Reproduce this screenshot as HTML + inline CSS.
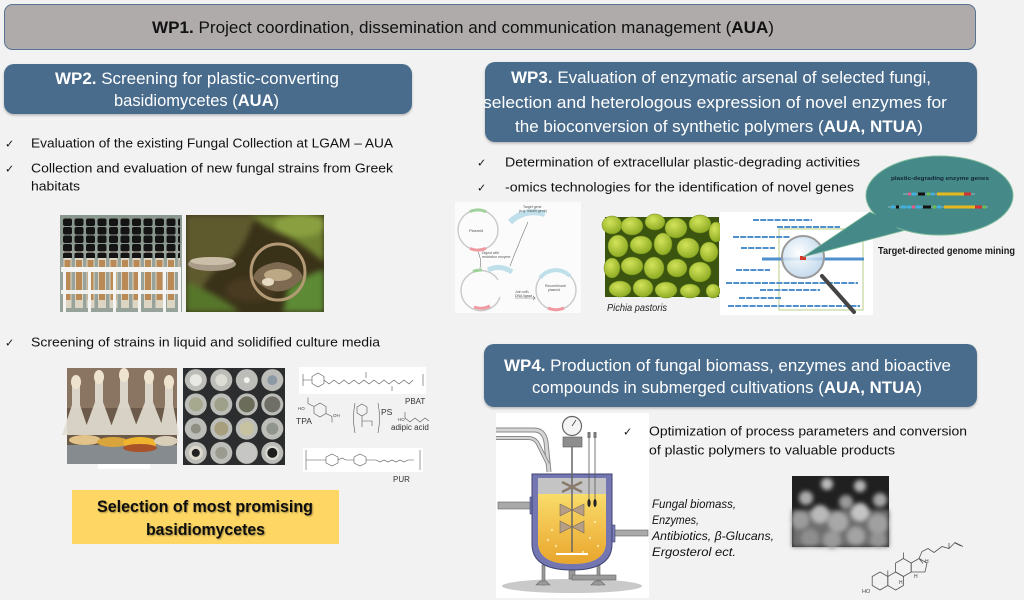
<!DOCTYPE html>
<html><head><meta charset="utf-8"><style>
html,body{margin:0;padding:0;background:#f2f2f2;}
svg{display:block;}
text{font-family:"Liberation Sans",sans-serif;}
.ck{font-family:"DejaVu Sans",sans-serif;font-size:11px;fill:#111;}
.b{font-size:13px;fill:#111;}
.h{font-size:17px;fill:#fff;}
</style></head><body>
<svg width="1024" height="603" viewBox="0 0 1024 603" xmlns="http://www.w3.org/2000/svg">
<defs>
<pattern id="caps" x="62" y="218" width="11.5" height="8.5" patternUnits="userSpaceOnUse"><rect x="1" y="0.5" width="9" height="7.5" rx="2" fill="#141414"/></pattern>
<pattern id="tubes" x="62" y="250" width="11.5" height="60" patternUnits="userSpaceOnUse"><rect x="1.5" y="0" width="8" height="60" fill="#ddd5c4"/><rect x="2.5" y="10" width="6" height="40" fill="#b98a55"/></pattern>
<linearGradient id="liq" x1="0" y1="0" x2="0" y2="1"><stop offset="0" stop-color="#f9dc6a"/><stop offset="1" stop-color="#e9a52c"/></linearGradient>
<radialGradient id="pich" cx="0.4" cy="0.35" r="0.7"><stop offset="0" stop-color="#d2e35a"/><stop offset="1" stop-color="#8aa820"/></radialGradient>
<radialGradient id="lens" cx="0.4" cy="0.4" r="0.6"><stop offset="0" stop-color="#ffffff" stop-opacity="0.9"/><stop offset="1" stop-color="#b9d3ea" stop-opacity="0.8"/></radialGradient>
<filter id="bl" x="-20%" y="-20%" width="140%" height="140%"><feGaussianBlur stdDeviation="2.2"/></filter>
<filter id="bl2" x="-20%" y="-20%" width="140%" height="140%"><feGaussianBlur stdDeviation="3"/></filter>
<filter id="sh" x="-5%" y="-10%" width="110%" height="130%"><feDropShadow dx="0" dy="1.5" stdDeviation="1.2" flood-color="#000" flood-opacity="0.25"/></filter>
<filter id="ts"><feDropShadow dx="1" dy="1" stdDeviation="0.8" flood-color="#000" flood-opacity="0.35"/></filter>
<clipPath id="forestclip"><rect x="186" y="215" width="138" height="97"/></clipPath>
</defs>

<rect x="0" y="0" width="1024" height="603" fill="#f2f2f2"/>
<rect x="0" y="600" width="1024" height="3" fill="#ffffff"/>

<!-- WP1 -->
<rect x="4.5" y="4.5" width="971" height="45" rx="8" fill="#afabab" stroke="#5a7394" stroke-width="1"/>
<text x="152" y="33" font-size="16.5" fill="#111" textLength="622" lengthAdjust="spacingAndGlyphs"><tspan font-weight="bold">WP1.</tspan> Project coordination, dissemination and communication management (<tspan font-weight="bold">AUA</tspan>)</text>

<!-- WP2 -->
<rect x="4" y="64" width="408" height="50" rx="10" fill="#496c8d" filter="url(#sh)"/>
<text class="h" x="55" y="84" textLength="284" lengthAdjust="spacingAndGlyphs"><tspan font-weight="bold">WP2.</tspan> Screening for plastic-converting</text>
<text class="h" x="114" y="106" textLength="165" lengthAdjust="spacingAndGlyphs">basidiomycetes (<tspan font-weight="bold">AUA</tspan>)</text>

<text class="ck" x="5" y="147.5">✓</text>
<text class="b" x="31" y="147.5" textLength="362" lengthAdjust="spacingAndGlyphs">Evaluation of the existing Fungal Collection at LGAM – AUA</text>
<text class="ck" x="5" y="172.5">✓</text>
<text class="b" x="31" y="172.5" textLength="362" lengthAdjust="spacingAndGlyphs">Collection and evaluation of new fungal strains from Greek</text>
<text class="b" x="31" y="190.5" textLength="49" lengthAdjust="spacingAndGlyphs">habitats</text>

<!-- test tubes image -->
<rect x="60" y="215" width="122" height="97" fill="#97a39a"/>
<rect x="60" y="215" width="122" height="30" fill="#8a978e"/>
<rect x="62" y="250" width="118" height="58" fill="url(#tubes)"/>
<rect x="62" y="218" width="118" height="40" fill="url(#caps)"/>
<rect x="61" y="267" width="120" height="5" fill="#f4f4f2"/>
<rect x="61" y="290" width="120" height="4" fill="#f0f0ee"/>
<rect x="63" y="267" width="3" height="45" fill="#f4f4f2"/><rect x="88" y="267" width="3" height="45" fill="#f4f4f2"/><rect x="113" y="267" width="3" height="45" fill="#f4f4f2"/><rect x="138" y="267" width="3" height="45" fill="#f4f4f2"/><rect x="163" y="267" width="3" height="45" fill="#f4f4f2"/><rect x="178" y="267" width="3" height="45" fill="#f4f4f2"/>

<!-- forest image -->
<g clip-path="url(#forestclip)">
<rect x="186" y="215" width="138" height="97" fill="#3a3119"/>
<g filter="url(#bl2)">
<path d="M186 215 H255 Q245 250 228 262 Q205 272 192 312 H186 Z" fill="#5e5a2e"/>
<path d="M250 215 H324 V262 Q300 242 282 234 Q265 228 250 215 Z" fill="#6f8232"/>
<ellipse cx="300" cy="225" rx="25" ry="12" fill="#8aa040"/>
<path d="M186 282 Q215 292 240 312 H186 Z" fill="#56762a"/>
<path d="M288 288 Q310 272 324 270 V312 H283 Z" fill="#5d8a34"/>
<ellipse cx="250" cy="290" rx="25" ry="12" fill="#4a3a20"/>
</g>
<ellipse cx="212" cy="264" rx="24" ry="7" fill="#a89a86"/>
<ellipse cx="212" cy="261" rx="22" ry="4" fill="#cbbfa9"/>
<ellipse cx="278" cy="272" rx="27" ry="28" fill="none" stroke="#b39a74" stroke-width="3"/>
<path d="M253 278 Q278 305 303 278 Q300 265 278 262 Q256 265 253 278 Z" fill="#7d6a50"/>
<ellipse cx="278" cy="275" rx="14" ry="6" fill="#bca884"/>
<ellipse cx="268" cy="282" rx="6" ry="4" fill="#e6dac2"/>
</g>

<text class="ck" x="5" y="346.5">✓</text>
<text class="b" x="31" y="346.5" textLength="349" lengthAdjust="spacingAndGlyphs">Screening of strains in liquid and solidified culture media</text>

<!-- flasks image -->
<rect x="67" y="368" width="110" height="96" fill="#6b5a49"/>
<rect x="67" y="368" width="110" height="40" fill="#8a7562"/>
<rect x="67" y="445" width="110" height="19" fill="#868b90"/>
<g fill="#e4dfd4" opacity="0.9">
<path d="M72 385 h8 v20 l10 30 h-28 l10 -30 z"/>
<path d="M95 380 h8 v22 l12 33 h-32 l12 -33 z"/>
<path d="M120 378 h8 v24 l12 33 h-32 l12 -33 z"/>
<path d="M145 380 h8 v22 l13 33 h-34 l13 -33 z"/>
<path d="M165 385 h8 v20 l6 30 h-20 l6 -30 z"/>
</g>
<g fill="#ede3cf"><ellipse cx="76" cy="382" rx="5" ry="7"/><ellipse cx="99" cy="377" rx="5" ry="7"/><ellipse cx="124" cy="375" rx="5" ry="7"/><ellipse cx="149" cy="377" rx="5" ry="7"/><ellipse cx="169" cy="382" rx="5" ry="7"/></g>
<ellipse cx="85" cy="440" rx="16" ry="5" fill="#e2c48a"/>
<ellipse cx="113" cy="442" rx="16" ry="5" fill="#d9a43c"/>
<ellipse cx="140" cy="443" rx="17" ry="6" fill="#f0b52e"/>
<ellipse cx="166" cy="441" rx="12" ry="5" fill="#d9cfb8"/>
<ellipse cx="140" cy="448" rx="17" ry="4" fill="#a8522a"/>
<rect x="98" y="464" width="52" height="5" fill="#ffffff"/>

<!-- plates image -->
<rect x="183" y="368" width="102" height="97" fill="#2b2d2e"/>
<g fill="#bcbdb8">
<circle cx="195.8" cy="380.1" r="11"/><circle cx="221.3" cy="380.1" r="11"/><circle cx="246.8" cy="380.1" r="11"/><circle cx="272.3" cy="380.1" r="11"/>
<circle cx="195.8" cy="404.4" r="11"/><circle cx="221.3" cy="404.4" r="11"/><circle cx="246.8" cy="404.4" r="11"/><circle cx="272.3" cy="404.4" r="11"/>
<circle cx="195.8" cy="428.6" r="11"/><circle cx="221.3" cy="428.6" r="11"/><circle cx="246.8" cy="428.6" r="11"/><circle cx="272.3" cy="428.6" r="11"/>
<circle cx="195.8" cy="452.9" r="11"/><circle cx="221.3" cy="452.9" r="11"/><circle cx="246.8" cy="452.9" r="11"/><circle cx="272.3" cy="452.9" r="11"/>
</g>
<g>
<circle cx="195.8" cy="380.1" r="6" fill="#e8e8e4"/><circle cx="221.3" cy="380.1" r="6" fill="#dddcd4"/><circle cx="246.8" cy="380.1" r="3" fill="#f2f2ee"/><circle cx="272.3" cy="380.1" r="5" fill="#8e99a6"/>
<circle cx="195.8" cy="404.4" r="7" fill="#a7a98e"/><circle cx="221.3" cy="404.4" r="7" fill="#9fa08a"/><circle cx="246.8" cy="404.4" r="8" fill="#6b6d5a"/><circle cx="272.3" cy="404.4" r="8" fill="#6f6f68"/>
<circle cx="195.8" cy="428.6" r="5" fill="#8e8f82"/><circle cx="221.3" cy="428.6" r="7" fill="#a69e7c"/><circle cx="246.8" cy="428.6" r="7" fill="#c7c2a0"/><circle cx="272.3" cy="428.6" r="6" fill="#8f948c"/>
<circle cx="195.8" cy="452.9" r="7" fill="#ddd8cc"/><circle cx="195.8" cy="452.9" r="4" fill="#222"/><circle cx="221.3" cy="452.9" r="6" fill="#9a9a8e"/><circle cx="246.8" cy="452.9" r="10" fill="#c6c6c4"/><circle cx="272.3" cy="452.9" r="7" fill="#dcdcd4"/><circle cx="272.3" cy="452.9" r="5" fill="#1e1e1e"/>
</g>

<!-- chemical structures -->
<rect x="299" y="367" width="127" height="27" fill="#ffffff"/>
<g fill="none" stroke="#555" stroke-width="0.6">
<path d="M303 374 v12 M303 380 h5"/>
<polygon points="318,373 324,376.5 324,383.5 318,387 312,383.5 312,376.5"/>
<path d="M308 380 h4 M324 380 l5 4 l5 -4 l5 4 l5 -4 l5 4 l5 -4 l5 4 l5 -4 l5 4 l5 -4 l5 4 l5 -4 l5 4 l5 -4 l5 4 l5 -4 l5 4 l4 -4 M423 374 v12 M366 372 v6 M392 386 v5"/>
</g>
<text x="405" y="404" font-size="8" fill="#333">PBAT</text>
<g fill="none" stroke="#555" stroke-width="0.6">
<polygon points="320,403 326,406.5 326,413.5 320,417 314,413.5 314,406.5"/>
<path d="M314 406.5 l-6 -3 M308 403.5 v-6 M326 413.5 l6 3 M332 416.5 v6"/>
<path d="M355 403 q-3 15 0 30 M378 403 q3 15 0 30"/>
<polygon points="362,404 367,407 367,413 362,416 357,413 357,407"/>
<path d="M362 416 v5 h10 v5 M362 421 v6"/>
<path d="M405 418 l5 4 l5 -4 l5 4 l5 -4 l4 3 M405 418 v-6"/>
</g>
<text x="298" y="410" font-size="4.5" fill="#444">HO</text>
<text x="333" y="417" font-size="4.5" fill="#444">OH</text>
<text x="398" y="421" font-size="4.5" fill="#444">HO</text>
<text x="296" y="424" font-size="8.5" fill="#333">TPA</text>
<text x="381" y="415" font-size="8.5" fill="#333">PS</text>
<text x="391" y="430" font-size="8" fill="#333">adipic acid</text>
<rect x="303" y="448" width="120" height="24" fill="#ffffff"/>
<g fill="none" stroke="#555" stroke-width="0.6">
<path d="M306 450 v20 M420 450 v20 M306 460 h10"/>
<polygon points="332,454 338,457 338,463 332,466 326,463 326,457"/>
<polygon points="360,454 366,457 366,463 360,466 354,463 354,457"/>
<path d="M316 460 h10 M338 460 l4 -2 l4 2 h8 M366 460 h10 l4 2 l4 -2 l4 2 l4 -2 l4 2 l4 -2 l4 2 l4 -2 l6 0"/>
</g>
<text x="393" y="482" font-size="8" fill="#333">PUR</text>

<!-- Selection box -->
<rect x="72" y="490" width="267" height="54" fill="#fdd663"/>
<g filter="url(#ts)">
<text x="97" y="512" font-size="17" font-weight="bold" fill="#111" textLength="216" lengthAdjust="spacingAndGlyphs">Selection of most promising</text>
<text x="146" y="535" font-size="17" font-weight="bold" fill="#111" textLength="119" lengthAdjust="spacingAndGlyphs">basidiomycetes</text>
</g>

<!-- WP3 -->
<rect x="485" y="62" width="492" height="80" rx="10" fill="#496c8d" filter="url(#sh)"/>
<text class="h" x="511" y="83" textLength="420" lengthAdjust="spacingAndGlyphs"><tspan font-weight="bold">WP3.</tspan> Evaluation of enzymatic arsenal of selected fungi,</text>
<text class="h" x="483" y="108" textLength="464" lengthAdjust="spacingAndGlyphs">selection and heterologous expression of novel enzymes for</text>
<text class="h" x="515" y="132" textLength="408" lengthAdjust="spacingAndGlyphs">the bioconversion of synthetic polymers (<tspan font-weight="bold">AUA, NTUA</tspan>)</text>

<text class="ck" x="477" y="166.5">✓</text>
<text class="b" x="505" y="166.5" textLength="355" lengthAdjust="spacingAndGlyphs">Determination of extracellular plastic-degrading activities</text>
<text class="ck" x="477" y="191.5">✓</text>
<text class="b" x="505" y="191.5" textLength="349" lengthAdjust="spacingAndGlyphs">-omics technologies for the identification of novel genes</text>

<!-- plasmid diagram -->
<rect x="455" y="202" width="126" height="111" fill="#fbfbfb"/>
<g fill="none" stroke-width="1.4">
<circle cx="478" cy="230" r="20" stroke="#c9c9c9"/>
<path d="M470 211.5 A20 20 0 0 1 486 211.7" stroke="#9fd19a" stroke-width="3"/>
<path d="M470 248.5 A20 20 0 0 0 486 248.3" stroke="#ee9aa0" stroke-width="3"/>
<path d="M510 222 Q525 208 545 214" stroke="#bfe0ea" stroke-width="6"/>
<path d="M500 297 A20 20 0 1 1 498 280" stroke="#c9c9c9"/>
<path d="M473 271.5 A20 20 0 0 1 482 270" stroke="#9fd19a" stroke-width="3"/>
<path d="M474 307 A20 20 0 0 0 490 306" stroke="#ee9aa0" stroke-width="3"/>
<path d="M488 270 Q500 264 512 272" stroke="#bfe0ea" stroke-width="5"/>
<circle cx="556" cy="290" r="20" stroke="#c9c9c9"/>
<path d="M540 278 A20 20 0 0 1 570 276" stroke="#bfe0ea" stroke-width="4"/>
<path d="M548 308 A20 20 0 0 0 564 308" stroke="#ee9aa0" stroke-width="3"/>
</g>
<g fill="none" stroke="#777" stroke-width="0.6">
<path d="M478 252 Q482 260 480 268"/><path d="M528 222 Q518 245 510 266"/><path d="M515 298 h20 l-2 -2 M535 298 l-2 2"/>
</g>
<text x="469" y="232" font-size="4" fill="#555">Plasmid</text>
<text x="523" y="208" font-size="3.5" fill="#555">Target gene</text>
<text x="519" y="212" font-size="3.5" fill="#555">(e.g. insulin gene)</text>
<text x="482" y="254" font-size="3.5" fill="#555">Digest with</text>
<text x="482" y="258" font-size="3.5" fill="#555">restriction enzyme</text>
<text x="515" y="293" font-size="3.5" fill="#555">Join with</text>
<text x="515" y="297" font-size="3.5" fill="#555">DNA ligase</text>
<text x="545" y="287" font-size="3.5" fill="#555">Recombinant</text>
<text x="548" y="291" font-size="3.5" fill="#555">plasmid</text>

<!-- Pichia -->
<rect x="605" y="217" width="114" height="80" fill="#3b5410"/>
<g fill="url(#pich)" stroke="#6f8a18" stroke-width="0.5">
<ellipse cx="612" cy="225" rx="10" ry="9"/><ellipse cx="632" cy="226" rx="11" ry="9"/><ellipse cx="655" cy="222" rx="10" ry="8"/><ellipse cx="676" cy="228" rx="11" ry="10"/><ellipse cx="700" cy="224" rx="11" ry="9"/><ellipse cx="716" cy="232" rx="7" ry="10"/>
<ellipse cx="618" cy="246" rx="10" ry="11"/><ellipse cx="641" cy="245" rx="11" ry="9"/><ellipse cx="663" cy="244" rx="9" ry="11"/><ellipse cx="688" cy="248" rx="11" ry="10"/><ellipse cx="709" cy="252" rx="9" ry="10"/>
<ellipse cx="612" cy="268" rx="8" ry="10"/><ellipse cx="632" cy="266" rx="11" ry="9"/><ellipse cx="654" cy="268" rx="10" ry="11"/><ellipse cx="677" cy="268" rx="10" ry="9"/><ellipse cx="700" cy="272" rx="11" ry="10"/>
<ellipse cx="620" cy="289" rx="11" ry="8"/><ellipse cx="643" cy="288" rx="10" ry="9"/><ellipse cx="666" cy="290" rx="11" ry="8"/><ellipse cx="690" cy="291" rx="10" ry="7"/><ellipse cx="713" cy="291" rx="7" ry="7"/>
</g>
<text x="607" y="311" font-size="10.5" font-style="italic" fill="#222" textLength="60" lengthAdjust="spacingAndGlyphs">Pichia pastoris</text>

<!-- genome mining -->
<rect x="720" y="212" width="153" height="103" fill="#ffffff"/>
<rect x="779" y="229" width="84" height="81" fill="none" stroke="#b5cf86" stroke-width="1"/>
<g stroke="#4f8fcc" stroke-width="2" stroke-dasharray="6 1.2">
<path d="M753 220 H812"/><path d="M777 227 H840"/><path d="M733 237 H790"/><path d="M741 248 H775"/>
<path d="M762 259 H864"/><path d="M736 270 H770"/><path d="M726 283 H858"/><path d="M760 290 H820"/>
<path d="M739 298 H782"/><path d="M728 306 H860"/>
</g>
<path d="M762 259 H864" stroke="#4f8fcc" stroke-width="3"/>
<line x1="822" y1="276" x2="854" y2="312" stroke="#444" stroke-width="4" stroke-linecap="round"/>
<circle cx="803" cy="257" r="21" fill="url(#lens)" stroke="#9a9a9a" stroke-width="2"/>
<rect x="800" y="256" width="6" height="4" fill="#d9362a"/>

<!-- speech bubble -->
<polygon points="870,212 906,230 803,257" fill="#458a88" stroke="#7bb89a" stroke-width="0.8"/>
<ellipse cx="939.5" cy="195.5" rx="73.5" ry="39.5" fill="#458a88" stroke="#7bb89a" stroke-width="1"/>
<polygon points="874,214 902,226 808,255" fill="#458a88"/>
<text x="891" y="180" font-size="5.8" font-weight="bold" fill="#14243a" textLength="98" lengthAdjust="spacingAndGlyphs">plastic-degrading enzyme genes</text>
<g>
<line x1="903" y1="194" x2="975" y2="194" stroke="#dde" stroke-width="0.6"/>
<rect x="908" y="192.5" width="3" height="3" fill="#e05a8a"/><rect x="912" y="192.5" width="4" height="3" fill="#40b0e0"/><rect x="918" y="192.5" width="7" height="3" fill="#111"/><rect x="927" y="192.5" width="3" height="3" fill="#6cc04a"/><rect x="931" y="192.5" width="3" height="3" fill="#40b0e0"/><rect x="937" y="192.5" width="27" height="3" fill="#e6b820"/><rect x="964" y="192.5" width="7" height="3" fill="#d63030"/>
<line x1="888" y1="207" x2="988" y2="207" stroke="#dde" stroke-width="0.6"/>
<rect x="891" y="205.5" width="4" height="3" fill="#40b0e0"/><rect x="896" y="205.5" width="3" height="3" fill="#111"/><rect x="901" y="205.5" width="5" height="3" fill="#40b0e0"/><rect x="907" y="205.5" width="4" height="3" fill="#40b0e0"/><rect x="912" y="205.5" width="3" height="3" fill="#e05a8a"/><rect x="916" y="205.5" width="5" height="3" fill="#40b0e0"/><rect x="923" y="205.5" width="8" height="3" fill="#111"/><rect x="933" y="205.5" width="3" height="3" fill="#6cc04a"/><rect x="937" y="205.5" width="4" height="3" fill="#40b0e0"/><rect x="944" y="205.5" width="31" height="3" fill="#e6b820"/><rect x="975" y="205.5" width="7" height="3" fill="#d63030"/><rect x="983" y="205.5" width="3" height="3" fill="#6cc04a"/>
</g>
<text x="878" y="254" font-size="10.5" font-weight="bold" fill="#1a1a1a" textLength="137" lengthAdjust="spacingAndGlyphs">Target-directed genome mining</text>

<!-- WP4 -->
<rect x="484" y="344" width="493" height="63" rx="10" fill="#496c8d" filter="url(#sh)"/>
<text class="h" x="504" y="371" textLength="447" lengthAdjust="spacingAndGlyphs"><tspan font-weight="bold">WP4.</tspan> Production of fungal biomass, enzymes and bioactive</text>
<text class="h" x="532" y="393" textLength="390" lengthAdjust="spacingAndGlyphs">compounds in submerged cultivations (<tspan font-weight="bold">AUA, NTUA</tspan>)</text>

<!-- reactor -->
<rect x="496" y="413" width="153" height="185" fill="#ffffff"/>
<ellipse cx="572" cy="586" rx="70" ry="7" fill="#c9c9c9"/>
<g fill="#9a9a9a" stroke="#666" stroke-width="0.6">
<rect x="542" y="565" width="3" height="20"/><rect x="597" y="565" width="3" height="20"/>
<path d="M536 585 h14 l-4 -4 h-6 z"/><path d="M591 585 h14 l-4 -4 h-6 z"/>
<rect x="569" y="565" width="6" height="14"/><rect x="572" y="575" width="44" height="5"/>
<rect x="564" y="566" width="16" height="3"/>
</g>
<rect x="498" y="502" width="36" height="7" fill="#a9a9a9" stroke="#666" stroke-width="0.6"/>
<rect x="614" y="530" width="34" height="6" fill="#a9a9a9" stroke="#666" stroke-width="0.6"/>
<rect x="530" y="497" width="8" height="17" fill="#7b7fb6" stroke="#3f4170" stroke-width="0.6"/>
<rect x="606" y="525" width="9" height="17" fill="#7b7fb6" stroke="#3f4170" stroke-width="0.6"/>
<path d="M532 474 h80 v70 q0 26 -40 26 q-40 0 -40 -26 z" fill="#7376b0" stroke="#3f4170" stroke-width="1"/>
<path d="M538 478 h68 v64 q0 22 -34 22 q-34 0 -34 -22 z" fill="#c4c4c4"/>
<path d="M538 494 h68 v48 q0 22 -34 22 q-34 0 -34 -22 z" fill="url(#liq)"/>
<g fill="#fff3c0" opacity="0.7"><circle cx="548" cy="540" r="1.2"/><circle cx="556" cy="546" r="1.2"/><circle cx="590" cy="538" r="1.2"/><circle cx="598" cy="546" r="1.2"/><circle cx="583" cy="552" r="1.2"/><circle cx="552" cy="530" r="1.2"/><circle cx="595" cy="522" r="1.2"/></g>
<rect x="556" y="553" width="32" height="2" fill="#fff"/>
<path d="M496 430 h38 q10 0 12 12 l3 30" fill="none" stroke="#8a8a8a" stroke-width="5"/>
<path d="M496 430 h38 q10 0 12 12 l3 30" fill="none" stroke="#d5d5d5" stroke-width="3"/>
<path d="M496 438 h32 q8 0 11 8 l9 18" fill="none" stroke="#8a8a8a" stroke-width="4"/>
<path d="M496 438 h32 q8 0 11 8 l9 18" fill="none" stroke="#d5d5d5" stroke-width="2"/>
<line x1="572" y1="440" x2="572" y2="552" stroke="#666" stroke-width="1.5"/>
<path d="M562 482 l20 10 M562 492 l20 -10" stroke="#8a7b6b" stroke-width="2.5"/>
<path d="M572 510 l-12 -6 v12 z M572 510 l12 -6 v12 z" fill="#b59e85" stroke="#7a6a5a" stroke-width="0.6"/>
<path d="M572 527 l-12 -6 v12 z M572 527 l12 -6 v12 z" fill="#b59e85" stroke="#7a6a5a" stroke-width="0.6"/>
<line x1="589" y1="436" x2="589" y2="505" stroke="#555" stroke-width="0.8"/><line x1="595" y1="436" x2="595" y2="505" stroke="#555" stroke-width="0.8"/>
<rect x="587.5" y="432" width="3" height="6" fill="#777"/><rect x="593.5" y="432" width="3" height="6" fill="#777"/>
<ellipse cx="589" cy="503" rx="1.6" ry="4" fill="#222"/><ellipse cx="595" cy="503" rx="1.6" ry="4" fill="#222"/>
<rect x="563" y="437" width="19" height="10" fill="#8e8e8e" stroke="#555" stroke-width="0.6"/>
<circle cx="572" cy="426" r="9.5" fill="#f4f4f4" stroke="#666" stroke-width="1.2"/>
<line x1="572" y1="426" x2="576" y2="420" stroke="#444" stroke-width="0.8"/>

<!-- WP4 bullet (drawn after reactor so check mark is visible) -->
<text class="ck" x="623" y="435.5">✓</text>
<text class="b" x="649" y="435.5" textLength="318" lengthAdjust="spacingAndGlyphs">Optimization of process parameters and conversion</text>
<text class="b" x="649" y="454.5" textLength="246" lengthAdjust="spacingAndGlyphs">of plastic polymers to valuable products</text>

<!-- product list -->
<g font-size="12" font-style="italic" fill="#111">
<text x="652" y="508" textLength="84" lengthAdjust="spacingAndGlyphs">Fungal biomass,</text>
<text x="652" y="524" textLength="47" lengthAdjust="spacingAndGlyphs">Enzymes,</text>
<text x="652" y="540" textLength="122" lengthAdjust="spacingAndGlyphs">Antibiotics, β-Glucans,</text>
<text x="652" y="556" textLength="84" lengthAdjust="spacingAndGlyphs">Ergosterol ect.</text>
</g>

<!-- fungal pellets photo -->
<rect x="792" y="476" width="97" height="71" fill="#202020"/>
<g filter="url(#bl)">
<rect x="792" y="510" width="97" height="37" fill="#6e6e6e"/>
<circle cx="806" cy="498" r="7" fill="#aaa"/><circle cx="827" cy="484" r="6" fill="#bbb"/><circle cx="860" cy="486" r="6" fill="#b5b5b5"/><circle cx="846" cy="502" r="7" fill="#9a9a9a"/><circle cx="880" cy="500" r="7" fill="#a5a5a5"/>
<circle cx="800" cy="520" r="9" fill="#9c9c9c"/><circle cx="820" cy="514" r="9" fill="#b9b9b9"/><circle cx="838" cy="522" r="10" fill="#a8a8a8"/><circle cx="860" cy="512" r="9" fill="#c4c4c4"/><circle cx="878" cy="524" r="10" fill="#a0a0a0"/>
<circle cx="810" cy="538" r="9" fill="#8e8e8e"/><circle cx="832" cy="540" r="9" fill="#9a9a9a"/><circle cx="856" cy="536" r="9" fill="#a3a3a3"/><circle cx="878" cy="540" r="8" fill="#949494"/>
</g>

<!-- ergosterol -->
<g fill="none" stroke="#555" stroke-width="0.8">
<polygon points="880,572 887.8,576.5 887.8,585.5 880,590 872.2,585.5 872.2,576.5"/>
<polygon points="895.6,572 903.4,576.5 903.4,585.5 895.6,590 887.8,585.5 887.8,576.5"/>
<polygon points="903.4,558.5 911.2,563 911.2,572 903.4,576.5 895.6,572 895.6,563"/>
<polygon points="911.2,563 919,558.5 927,563 925,572 911.2,572"/>
<path d="M919 558.5 l3 -7 l6 -3 l6 4 l8 -6 l7 2 l6 -6 l8 4 M919 558.5 l4 5 M949 549 l0 -6 M955 543 l6 3"/>
<path d="M887.8 576.5 v-6 M903.4 558.5 v-6"/>
</g>
<text x="862" y="593" font-size="5.5" fill="#444">HO</text>
<text x="899" y="584" font-size="5" fill="#444">H</text>
<text x="914" y="578" font-size="5" fill="#444">H</text>
<text x="925" y="563" font-size="5" fill="#444">H</text>
</svg>
</body></html>
